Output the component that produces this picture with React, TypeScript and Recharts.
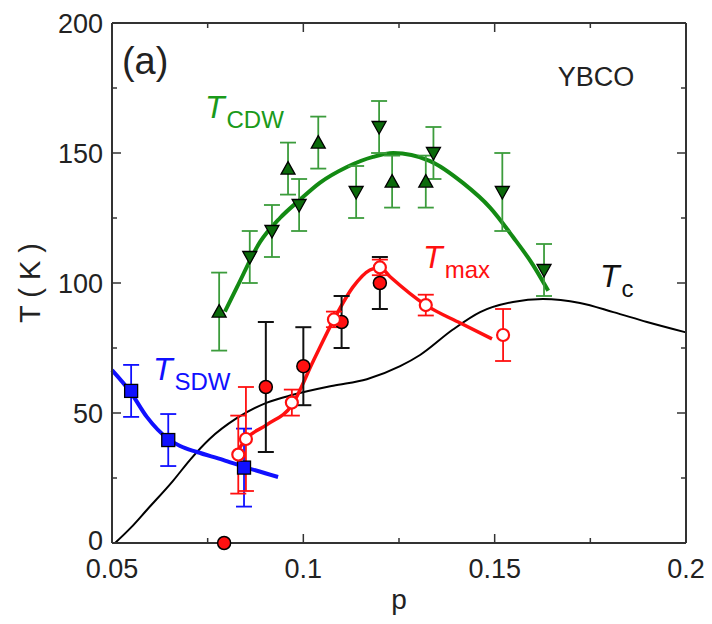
import { ComposedChart, ErrorBar, Line, ReferenceDot, Scatter, XAxis, YAxis } from "recharts";

const FONT = "'Liberation Sans', Arial, Helvetica, sans-serif";
const AXIS = "#333";
const GREEN = "#138a13";
const GREEN_ERR = "#3c9c3c";
const GREEN_MARK = "#0b6a0b";
const RED = "#ff1010";
const BLUE = "#1010ff";

const X_MAJOR = [0.05, 0.1, 0.15, 0.2];
const X_MINOR = [0.075, 0.125, 0.175];
const Y_MAJOR = [0, 50, 100, 150, 200];
const Y_MINOR = [25, 75, 125, 175];
const X_TICKS = [...X_MAJOR, ...X_MINOR].sort((a, b) => a - b);
const Y_TICKS = [...Y_MAJOR, ...Y_MINOR].sort((a, b) => a - b);

// T_CDW markers (up / down triangles)
const cdwUp = [
  { p: 0.078, T: 89, err: 15 },
  { p: 0.096, T: 144, err: 10 },
  { p: 0.1039, T: 154, err: 10 },
  { p: 0.1232, T: 139, err: 10 },
  { p: 0.132, T: 139, err: 10 },
];
const cdwDown = [
  { p: 0.086, T: 110, err: 10 },
  { p: 0.0918, T: 120, err: 10 },
  { p: 0.0989, T: 130, err: 10 },
  { p: 0.1138, T: 135, err: 10 },
  { p: 0.1198, T: 160, err: 10 },
  { p: 0.134, T: 150, err: 10 },
  { p: 0.152, T: 135, err: 15 },
  { p: 0.1629, T: 105, err: 10 },
];
const cdwCurve = [
  { p: 0.0795, T: 89 }, { p: 0.0827, T: 98.5 }, { p: 0.0887, T: 115.8 }, { p: 0.0939, T: 125 },
  { p: 0.0991, T: 132 }, { p: 0.1043, T: 138.5 }, { p: 0.1114, T: 144.6 }, { p: 0.1182, T: 148.5 },
  { p: 0.1235, T: 150 }, { p: 0.133, T: 147 }, { p: 0.1417, T: 138.5 }, { p: 0.1488, T: 129 },
  { p: 0.1548, T: 117.7 }, { p: 0.16, T: 107 }, { p: 0.164, T: 97 },
];

// T_max: open circles (red bars), filled circles (black bars)
const tmaxOpen = [
  { p: 0.083, T: 34, err: 15 },
  { p: 0.085, T: 40, err: 20 },
  { p: 0.097, T: 54, err: 5 },
  { p: 0.108, T: 86, err: 3 },
  { p: 0.12, T: 106, err: 3 },
  { p: 0.132, T: 91.5, err: 4 },
  { p: 0.1522, T: 80, err: 10 },
];
const tmaxFilled = [
  { p: 0.0902, T: 60, err: 25 },
  { p: 0.1, T: 68, err: 15 },
  { p: 0.11, T: 85, err: 10 },
  { p: 0.12, T: 100, err: 10 },
];
const tmaxZero = [{ p: 0.0793, T: 0 }];
const tmaxCurve = [
  { p: 0.0817, T: 32.6 }, { p: 0.085, T: 40 }, { p: 0.0905, T: 45.5 }, { p: 0.097, T: 53 },
  { p: 0.1026, T: 70 }, { p: 0.108, T: 86 }, { p: 0.113, T: 98.5 }, { p: 0.1174, T: 105 },
  { p: 0.12, T: 106 }, { p: 0.1226, T: 102.5 }, { p: 0.132, T: 91.5 }, { p: 0.141, T: 84.6 },
  { p: 0.1493, T: 78.5 },
];

// T_SDW
const sdw = [
  { p: 0.055, T: 58.5, err: 10 },
  { p: 0.0647, T: 39.6, err: 10 },
  { p: 0.0845, T: 29, err: 15 },
];
const sdwCurve = [
  { p: 0.05, T: 66.5 }, { p: 0.055, T: 57.7 }, { p: 0.0591, T: 48.5 }, { p: 0.0647, T: 40 },
  { p: 0.0678, T: 37.3 }, { p: 0.0722, T: 35 }, { p: 0.079, T: 32 }, { p: 0.0845, T: 29.3 },
  { p: 0.0934, T: 25.4 },
];

// T_c
const tcCurve = [
  { p: 0.0508, T: 0 }, { p: 0.055, T: 6 }, { p: 0.0591, T: 12.7 }, { p: 0.066, T: 24 },
  { p: 0.0704, T: 32 }, { p: 0.0755, T: 40 }, { p: 0.0826, T: 48 }, { p: 0.0905, T: 54 },
  { p: 0.0973, T: 57 }, { p: 0.1078, T: 60.5 }, { p: 0.1166, T: 63 }, { p: 0.1253, T: 68 },
  { p: 0.1305, T: 72.3 }, { p: 0.139, T: 82 }, { p: 0.1462, T: 88.8 }, { p: 0.1548, T: 92.7 },
  { p: 0.1626, T: 93.8 }, { p: 0.1723, T: 92.3 }, { p: 0.181, T: 88.8 }, { p: 0.1898, T: 85 },
  { p: 0.2, T: 81 },
];

const UpTri = (props: any) => {
  const { cx, cy } = props;
  return <path d={`M${cx},${cy - 7} L${cx + 7},${cy + 5.5} L${cx - 7},${cy + 5.5} Z`} fill={GREEN_MARK} stroke="#000" strokeWidth={1.3} />;
};
const DownTri = (props: any) => {
  const { cx, cy } = props;
  return <path d={`M${cx},${cy + 7} L${cx + 7},${cy - 5.5} L${cx - 7},${cy - 5.5} Z`} fill={GREEN_MARK} stroke="#000" strokeWidth={1.3} />;
};
const Square = (props: any) => {
  const { cx, cy } = props;
  return <rect x={cx - 6.5} y={cy - 6.5} width={13} height={13} fill={BLUE} stroke="#000" strokeWidth={1.3} />;
};
const OpenCircle = (props: any) => <circle cx={props.cx} cy={props.cy} r={6} fill="#fff" stroke={RED} strokeWidth={2.2} />;
const FilledCircle = (props: any) => <circle cx={props.cx} cy={props.cy} r={6.5} fill={RED} stroke="#000" strokeWidth={1.5} />;

const BottomTick = (props: any) => {
  const { x, y, payload } = props;
  const major = X_MAJOR.includes(payload.value);
  return (
    <g>
      <line x1={x} x2={x} y1={y} y2={y - (major ? 9 : 5)} stroke={AXIS} strokeWidth={1.5} />
      {major && (
        <text x={x} y={y + 35} textAnchor="middle" fontSize={27} fontFamily={FONT} fill="#222">
          {payload.value}
        </text>
      )}
    </g>
  );
};
const TopTick = (props: any) => {
  const { x, y, payload } = props;
  const major = X_MAJOR.includes(payload.value);
  return <line x1={x} x2={x} y1={y} y2={y + (major ? 9 : 5)} stroke={AXIS} strokeWidth={1.5} />;
};
const LeftTick = (props: any) => {
  const { x, y, payload } = props;
  const major = Y_MAJOR.includes(payload.value);
  // the "0" label sits a little higher so it clears the "0.05" below it
  const lift = payload.value === 0 ? 3 : 0;
  return (
    <g>
      <line x1={x} x2={x + (major ? 9 : 5)} y1={y} y2={y} stroke={AXIS} strokeWidth={1.5} />
      {major && (
        <text x={x - 9} y={y - lift} dy="0.36em" textAnchor="end" fontSize={27} fontFamily={FONT} fill="#222">
          {payload.value}
        </text>
      )}
    </g>
  );
};
const RightTick = (props: any) => {
  const { x, y, payload } = props;
  const major = Y_MAJOR.includes(payload.value);
  return <line x1={x} x2={x - (major ? 9 : 5)} y1={y} y2={y} stroke={AXIS} strokeWidth={1.5} />;
};

const note = (key: string, p: number, T: number, render: (x: number, y: number) => any) => (
  <ReferenceDot
    key={key}
    x={p}
    y={T}
    r={0}
    fill="none"
    stroke="none"
    label={{
      content: (props: any) => {
        const vb = props.viewBox || {};
        return render(vb.x + (vb.width || 0) / 2, vb.y + (vb.height || 0) / 2);
      },
    }}
  />
);

const sub = (x: number, y: number, color: string, s: string) => (
  <text x={x} y={y} fill={color} fontFamily={FONT}>
    <tspan fontSize={32} fontStyle="italic">T</tspan>
    <tspan fontSize={24} dx={2} dy={10}>{s}</tspan>
  </text>
);

export default function App() {
  return (
    <ComposedChart width={696} height={608} margin={{ top: 14, right: 0, bottom: 0, left: 0 }}>
      <XAxis
        dataKey="p"
        type="number"
        domain={[0.05, 0.2]}
        ticks={X_TICKS}
        interval={0}
        height={73}
        tickSize={0}
        tickMargin={0}
        tickLine={false}
        tick={<BottomTick />}
        axisLine={{ stroke: AXIS, strokeWidth: 2 }}
        label={{
          content: (props: any) => {
            const vb = props.viewBox;
            return (
              <text x={vb.x + vb.width / 2} y={vb.y + 66} textAnchor="middle" fontSize={28} fontFamily={FONT} fill="#222">
                p
              </text>
            );
          },
        }}
      />
      <XAxis
        xAxisId="top"
        orientation="top"
        dataKey="p"
        type="number"
        domain={[0.05, 0.2]}
        allowDataOverflow
        ticks={X_TICKS}
        interval={0}
        height={1}
        tickSize={0}
        tickMargin={0}
        tickLine={false}
        tick={<TopTick />}
        axisLine={{ stroke: AXIS, strokeWidth: 2 }}
      />
      <YAxis
        dataKey="T"
        type="number"
        domain={[0, 200]}
        ticks={Y_TICKS}
        interval={0}
        width={104}
        tickSize={0}
        tickMargin={0}
        tickLine={false}
        tick={<LeftTick />}
        axisLine={{ stroke: AXIS, strokeWidth: 2 }}
        label={{
          content: (props: any) => {
            const vb = props.viewBox;
            const cx = vb.x + 22;
            const cy = vb.y + vb.height / 2;
            return (
              <text x={cx} y={cy} transform={`rotate(-90, ${cx}, ${cy})`} textAnchor="middle" dominantBaseline="central" fontSize={29} fontFamily={FONT} fill="#222">
                T ( K )
              </text>
            );
          },
        }}
      />
      <YAxis
        yAxisId="right"
        orientation="right"
        type="number"
        domain={[0, 200]}
        allowDataOverflow
        ticks={Y_TICKS}
        interval={0}
        width={18}
        tickSize={0}
        tickMargin={0}
        tickLine={false}
        tick={<RightTick />}
        axisLine={{ stroke: AXIS, strokeWidth: 2 }}
      />

      <Line data={tcCurve} dataKey="T" type="monotone" stroke="#000" strokeWidth={2} dot={false} activeDot={false} isAnimationActive={false} />
      <Line data={cdwCurve} dataKey="T" type="monotone" stroke={GREEN} strokeWidth={4} dot={false} activeDot={false} isAnimationActive={false} />
      <Line data={sdwCurve} dataKey="T" type="monotone" stroke={BLUE} strokeWidth={4} dot={false} activeDot={false} isAnimationActive={false} />
      <Line data={tmaxCurve} dataKey="T" type="monotone" stroke={RED} strokeWidth={3.5} dot={false} activeDot={false} isAnimationActive={false} />

      <Scatter data={cdwUp} dataKey="T" shape={UpTri} isAnimationActive={false}>
        <ErrorBar dataKey="err" direction="y" width={8} stroke={GREEN_ERR} strokeWidth={1.8} />
      </Scatter>
      <Scatter data={cdwDown} dataKey="T" shape={DownTri} isAnimationActive={false}>
        <ErrorBar dataKey="err" direction="y" width={8} stroke={GREEN_ERR} strokeWidth={1.8} />
      </Scatter>
      <Scatter data={sdw} dataKey="T" shape={Square} isAnimationActive={false}>
        <ErrorBar dataKey="err" direction="y" width={8} stroke={BLUE} strokeWidth={1.8} />
      </Scatter>
      <Scatter data={tmaxFilled} dataKey="T" shape={FilledCircle} isAnimationActive={false}>
        <ErrorBar dataKey="err" direction="y" width={8} stroke="#111" strokeWidth={2} />
      </Scatter>
      <Scatter data={tmaxOpen} dataKey="T" shape={OpenCircle} isAnimationActive={false}>
        <ErrorBar dataKey="err" direction="y" width={8} stroke={RED} strokeWidth={1.8} />
      </Scatter>
      <Scatter data={tmaxZero} dataKey="T" shape={FilledCircle} isAnimationActive={false} />

      {note("a", 0.0526, 180.4, (x, y) => (
        <text x={x} y={y} fontSize={38} fontFamily={FONT} fill="#222">(a)</text>
      ))}
      {note("ybco", 0.1665, 175.8, (x, y) => (
        <text x={x} y={y} fontSize={27} fontFamily={FONT} fill="#222">YBCO</text>
      ))}
      {note("cdw", 0.0743, 163.5, (x, y) => sub(x, y, "#1a9a1a", "CDW"))}
      {note("max", 0.1313, 105.8, (x, y) => sub(x, y, RED, "max"))}
      {note("sdw", 0.0607, 62.7, (x, y) => sub(x, y, BLUE, "SDW"))}
      {note("tc", 0.1775, 98.5, (x, y) => sub(x, y, "#111", "c"))}
    </ComposedChart>
  );
}
